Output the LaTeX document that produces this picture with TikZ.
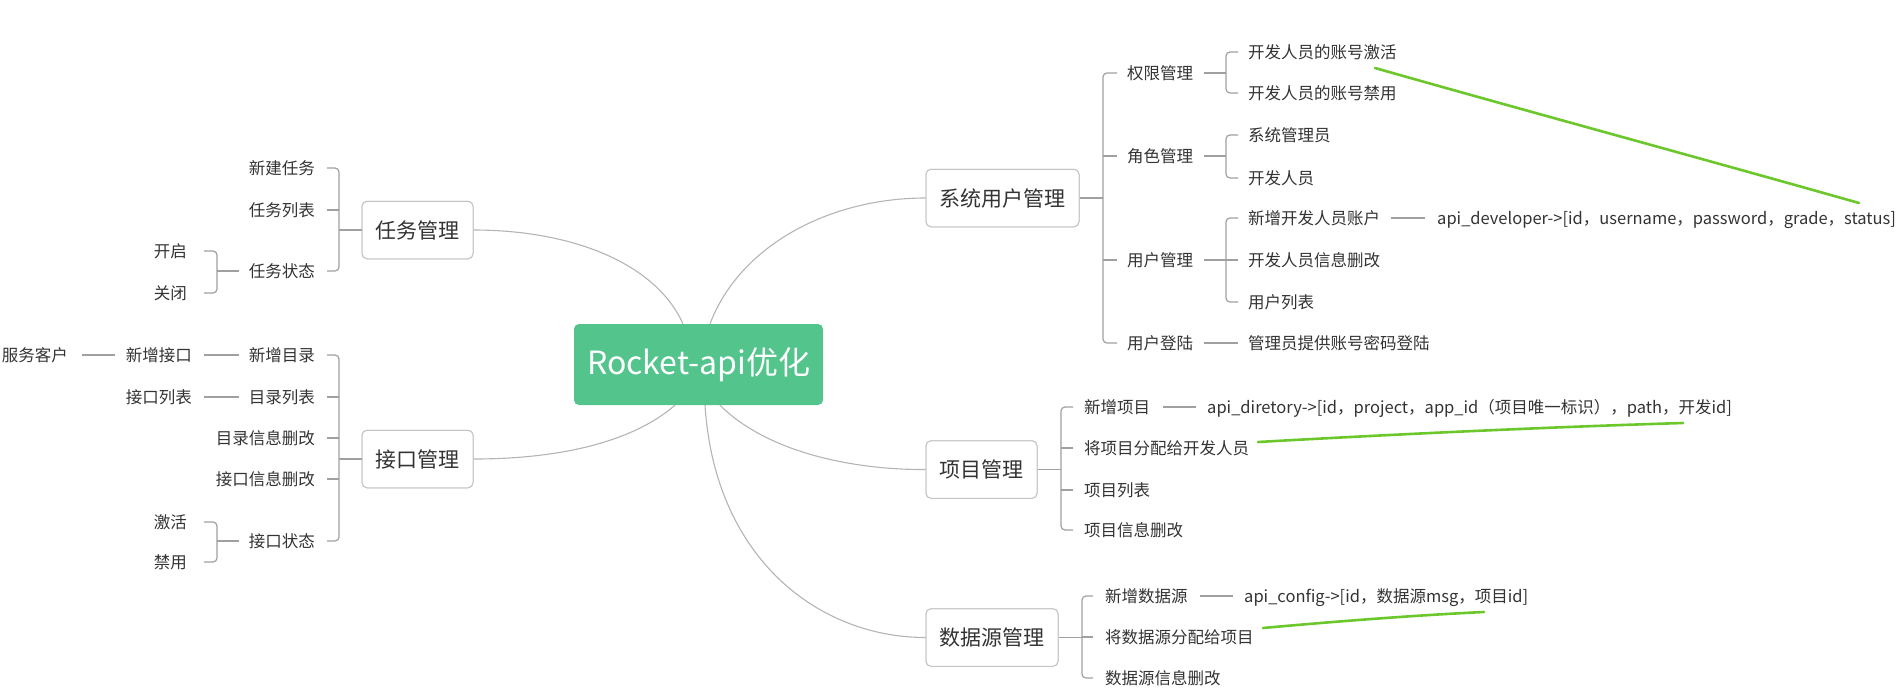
\documentclass[tikz,border=0pt]{standalone}
\usepackage{fontspec}
\setmainfont{Noto Sans CJK SC}
\definecolor{tcol}{HTML}{333333}
\definecolor{brcol}{HTML}{A0A0A0}
\definecolor{cvcol}{HTML}{B4B4B4}
\definecolor{bxcol}{HTML}{C4C4C4}
\definecolor{rootcol}{HTML}{52C48C}
\definecolor{mark}{HTML}{6CC72C}
\begin{document}
\begin{tikzpicture}[x=1pt,y=-1pt,
  txt/.style={inner sep=0pt,font=\fontsize{16.5}{20}\selectfont,text=tcol,text height=14.5pt,text depth=2pt},
  box/.style={draw=bxcol,line width=1pt,rounded corners=5pt,fill=white,inner xsep=13.5pt,minimum height=57.5pt,font=\fontsize{21}{25}\selectfont,text=tcol,text height=18.5pt,text depth=2.5pt},
  rootbox/.style={fill=rootcol,rounded corners=5pt,minimum width=249pt,minimum height=81pt,inner sep=0pt,font=\fontsize{32}{38}\selectfont,text=white},
  br/.style={draw=brcol,line width=1.2pt,rounded corners=4pt},
  ln/.style={draw=brcol,line width=1.1pt},
  curve/.style={draw=cvcol,line width=1.1pt},
  greenmark/.style={draw=mark,line width=2.6pt,line cap=round}]
\useasboundingbox (0,0) rectangle (1901,699);

% root
\node[rootbox] (root) at (698.5,364.5) {Rocket-api优化};

% branch boxes
\node[box] (task) at (417.5,230) {任务管理};
\node[box] (iface) at (417.5,459) {接口管理};
\node[box] (sys) at (1002.5,198) {系统用户管理};
\node[box] (proj) at (981.5,469.5) {项目管理};
\node[box] (data) at (992,637.5) {数据源管理};

% curves from root
\begin{scope}[on background layer/.try]
\end{scope}
\draw[curve] ([xshift=-15.5pt]root.north) .. controls (655,262) and (570,230) .. (task.east);
\draw[curve] ([xshift=-23.5pt]root.south) .. controls (635,440) and (565,459) .. (iface.east);
\draw[curve] ([xshift=11.5pt]root.north) .. controls (740,245) and (830,198) .. (sys.west);
\draw[curve] ([xshift=21.5pt]root.south) .. controls (770,455) and (860,470) .. (proj.west);
\draw[curve] ([xshift=6.5pt]root.south) .. controls (715,560) and (820,637.5) .. (data.west);
% redraw boxes over curve ends
\node[box] at (task) {任务管理};
\node[box] at (iface) {接口管理};
\node[box] at (sys) {系统用户管理};
\node[box] at (proj) {项目管理};
\node[box] at (data) {数据源管理};

% ---------- left: task ----------
\node[txt,anchor=east] (t1) at (315,168) {新建任务};
\node[txt,anchor=east] (t2) at (315,210) {任务列表};
\node[txt,anchor=east] (t3) at (315,271) {任务状态};
\node[txt,anchor=east] (t31) at (187,251) {开启};
\node[txt,anchor=east] (t32) at (187,293) {关闭};
\coordinate (vL) at (339,0);
\coordinate (vS) at (217,0);
\draw[br] ([xshift=12pt]t1.east) -| (vL |- t3.east) -- ([xshift=12pt]t3.east);
\draw[ln] ([xshift=12pt]t2.east) -- (vL |- t2.east);
\draw[ln] (task.west) -- (vL |- task.west);
\draw[br] ([xshift=17pt]t31.east) -| (vS |- t32.east) -- ([xshift=17pt]t32.east);
\draw[ln] ([xshift=-10pt]t3.west) -- (vS |- t3.west);

% ---------- left: interface ----------
\node[txt,anchor=east] (j1) at (315,355) {新增目录};
\node[txt,anchor=east] (j11) at (192,355) {新增接口};
\node[txt,anchor=east] (j111) at (68,355) {服务客户};
\node[txt,anchor=east] (j2) at (315,397) {目录列表};
\node[txt,anchor=east] (j21) at (192,397) {接口列表};
\node[txt,anchor=east] (j3) at (315,438) {目录信息删改};
\node[txt,anchor=east] (j4) at (315,479) {接口信息删改};
\node[txt,anchor=east] (j5) at (315,541) {接口状态};
\node[txt,anchor=east] (j51) at (187,522) {激活};
\node[txt,anchor=east] (j52) at (187,562) {禁用};
\draw[br] ([xshift=12pt]j1.east) -| (vL |- j5.east) -- ([xshift=12pt]j5.east);
\foreach \n in {j2,j3,j4} \draw[ln] ([xshift=12pt]\n.east) -- (vL |- \n.east);
\draw[ln] (iface.west) -- (vL |- iface.west);
\draw[ln] ([xshift=-10pt]j1.west) -- ([xshift=12pt]j11.east);
\draw[ln] ([xshift=-11pt]j11.west) -- ([xshift=14pt]j111.east);
\draw[ln] ([xshift=-10pt]j2.west) -- ([xshift=12pt]j21.east);
\draw[br] ([xshift=17pt]j51.east) -| (vS |- j52.east) -- ([xshift=17pt]j52.east);
\draw[ln] ([xshift=-10pt]j5.west) -- (vS |- j5.west);

% ---------- right: system users ----------
\node[txt,anchor=west] (s1) at (1127,73) {权限管理};
\node[txt,anchor=west] (s2) at (1127,156) {角色管理};
\node[txt,anchor=west] (s3) at (1127,260) {用户管理};
\node[txt,anchor=west] (s4) at (1127,343) {用户登陆};
\node[txt,anchor=west] (s11) at (1248,52) {开发人员的账号激活};
\node[txt,anchor=west] (s12) at (1248,93) {开发人员的账号禁用};
\node[txt,anchor=west] (s21) at (1248,135) {系统管理员};
\node[txt,anchor=west] (s22) at (1248,178) {开发人员};
\node[txt,anchor=west] (s31) at (1248,218) {新增开发人员账户};
\node[txt,anchor=west] (s311) at (1437,218) {api\_developer->[id，username，password，grade，status]};
\node[txt,anchor=west] (s32) at (1248,260) {开发人员信息删改};
\node[txt,anchor=west] (s33) at (1248,302) {用户列表};
\node[txt,anchor=west] (s41) at (1248,343) {管理员提供账号密码登陆};
\coordinate (vR) at (1103,0);
\coordinate (vR2) at (1226,0);
\draw[br] ([xshift=-10pt]s1.west) -| (vR |- s4.west) -- ([xshift=-10pt]s4.west);
\foreach \n in {s2,s3} \draw[ln] ([xshift=-10pt]\n.west) -- (vR |- \n.west);
\draw[ln] (sys.east) -- (vR |- sys.east);
\draw[br] ([xshift=-10pt]s11.west) -| (vR2 |- s12.west) -- ([xshift=-10pt]s12.west);
\draw[ln] ([xshift=11pt]s1.east) -- (vR2 |- s1.east);
\draw[br] ([xshift=-10pt]s21.west) -| (vR2 |- s22.west) -- ([xshift=-10pt]s22.west);
\draw[ln] ([xshift=11pt]s2.east) -- (vR2 |- s2.east);
\draw[br] ([xshift=-10pt]s31.west) -| (vR2 |- s33.west) -- ([xshift=-10pt]s33.west);
\draw[ln] ([xshift=-10pt]s32.west) -- (vR2 |- s32.west);
\draw[ln] ([xshift=11pt]s3.east) -- (vR2 |- s3.east);
\draw[ln] ([xshift=11pt]s4.east) -- ([xshift=-10pt]s41.west);
\draw[ln] ([xshift=11pt]s31.east) -- ([xshift=-12pt]s311.west);

% ---------- right: projects ----------
\node[txt,anchor=west] (p1) at (1084,407) {新增项目};
\node[txt,anchor=west] (p11) at (1207,407) {api\_diretory->[id，project，app\_id（项目唯一标识），path，开发id]};
\node[txt,anchor=west] (p2) at (1084,448) {将项目分配给开发人员};
\node[txt,anchor=west] (p3) at (1084,490) {项目列表};
\node[txt,anchor=west] (p4) at (1084,530) {项目信息删改};
\coordinate (vP) at (1061,0);
\draw[br] ([xshift=-11pt]p1.west) -| (vP |- p4.west) -- ([xshift=-11pt]p4.west);
\foreach \n in {p2,p3} \draw[ln] ([xshift=-11pt]\n.west) -- (vP |- \n.west);
\draw[ln] (proj.east) -- (vP |- proj.east);
\draw[ln] ([xshift=13pt]p1.east) -- ([xshift=-11pt]p11.west);

% ---------- right: data sources ----------
\node[txt,anchor=west] (d1) at (1105,596) {新增数据源};
\node[txt,anchor=west] (d11) at (1244,596) {api\_config->[id，数据源msg，项目id]};
\node[txt,anchor=west] (d2) at (1105,637) {将数据源分配给项目};
\node[txt,anchor=west] (d3) at (1105,678) {数据源信息删改};
\coordinate (vD) at (1082,0);
\draw[br] ([xshift=-12pt]d1.west) -| (vD |- d3.west) -- ([xshift=-12pt]d3.west);
\draw[ln] ([xshift=-12pt]d2.west) -- (vD |- d2.west);
\draw[ln] (data.east) -- (vD |- data.east);
\draw[ln] ([xshift=12pt]d1.east) -- ([xshift=-11pt]d11.west);

% ---------- green annotation strokes ----------
\coordinate (g1a) at (1375,68);
\coordinate (g1b) at (1859,203);
\coordinate (g2a) at (1258,442);
\coordinate (g2b) at (1683,423);
\coordinate (g3a) at (1263,628);
\coordinate (g3b) at (1484,612);
\draw[greenmark] (g1a) .. controls (1530,112) and (1700,158) .. (g1b);
\draw[greenmark] (g2a) .. controls (1400,434) and (1550,427) .. (g2b);
\draw[greenmark] (g3a) .. controls (1340,621) and (1420,615) .. (g3b);
\end{tikzpicture}
\end{document}
